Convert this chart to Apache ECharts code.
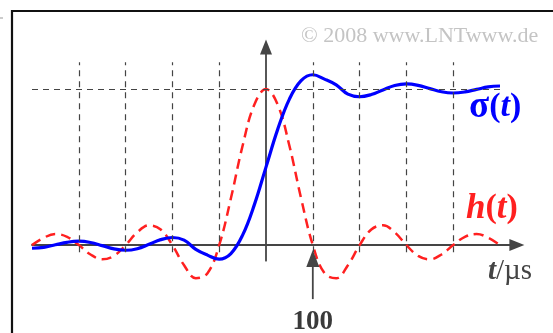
<!DOCTYPE html>
<html><head><meta charset="utf-8">
<script src="https://cdn.jsdelivr.net/npm/echarts@6/dist/echarts.min.js"></script>
<style>html,body{margin:0;padding:0;background:#fff;} #c{width:553px;height:333px;}</style>
</head><body><div id="c"></div>
<script>
// time axis samples (µs)
const tValues = [-500,-475,-450,-425,-400,-375,-350,-325,-300,-275,-250,-225,-200,-175,-150,-125,-100,-75,-50,-25,0,
  25,50,75,100,125,150,175,200,225,250,275,300,325,350,375,400,425,450,475,500];
// impulse response h(t) (red dashed), normalised to peak 1
const hValues = [0,0.047,0.071,0.053,0,-0.060,-0.091,-0.069,0,0.082,0.127,0.100,0,-0.129,-0.212,-0.180,0,0.300,0.637,0.900,1,
  0.900,0.637,0.300,0,-0.180,-0.212,-0.129,0,0.100,0.127,0.082,0,-0.069,-0.091,-0.060,0,0.053,0.071,0.047,0];
// step response sigma(t) (blue solid)
const sigmaValues = [-0.020,-0.014,0.002,0.018,0.025,0.017,-0.003,-0.024,-0.033,-0.023,0.005,0.035,0.049,0.032,-0.027,-0.064,-0.090,-0.054,0.064,0.258,0.500,
  0.742,0.936,1.054,1.092,1.064,1.027,0.968,0.951,0.965,0.995,1.023,1.033,1.024,1.003,0.983,0.975,0.982,0.998,1.014,1.020];
// dashed grid positions
const gridTicks = [-400,-300,-200,-100,100,200,300,400];
const refLevel = 1;
const markedTick = 100;
const markedLabel = '100';

const X0 = -500, X1 = 536, Y0 = -0.1, Y1 = 1.27;
const pxT = 0.468, pxV = 156;
const chart = echarts.init(document.getElementById('c'), null, {renderer: 'canvas'});
const axisCol = '#454545';

const gridLines = gridTicks.map(t => [{coord: [t, -0.045]}, {coord: [t, 1.173]}]);
gridLines.push([{coord: [X0, refLevel]}, {coord: [500, refLevel]}]);

chart.setOption({
  animation: false,
  backgroundColor: '#ffffff',
  grid: {left: 32, top: 47, width: (X1 - X0) * pxT, height: (Y1 - Y0) * pxV},
  xAxis: {type: 'value', min: X0, max: X1,
    axisLine: {onZero: true, symbol: ['none', 'triangle'], symbolSize: [12, 15], lineStyle: {color: axisCol, width: 1.8}},
    axisTick: {show: false}, axisLabel: {show: false}, splitLine: {show: false}},
  yAxis: {type: 'value', min: Y0, max: Y1,
    axisLine: {show: true, onZero: true, symbol: ['none', 'triangle'], symbolSize: [12, 15], lineStyle: {color: axisCol, width: 1.8}},
    axisTick: {show: false}, axisLabel: {show: false}, splitLine: {show: false}},
  series: [
    {type: 'line', data: [], z: 1, silent: true,
     markLine: {silent: true, symbol: ['none', 'none'], label: {show: false}, animation: false,
       lineStyle: {color: '#444', type: [6, 5], width: 1.2}, emphasis: {disabled: true}, data: gridLines}},
    {name: 'h', type: 'line', z: 3, smooth: 0.4, showSymbol: false, silent: true, clip: false,
     data: tValues.map((t, i) => [t, hValues[i]]),
     lineStyle: {color: '#ff2020', width: 2.5, type: [10, 6]}},
    {name: 'sigma', type: 'line', z: 4, smooth: 0.4, showSymbol: false, silent: true, clip: false,
     data: tValues.map((t, i) => [t, sigmaValues[i]]),
     lineStyle: {color: '#0000ff', width: 3.2}}
  ]
});

const p = chart.convertToPixel({gridIndex: 0}, [markedTick, 0]);
const ax = p[0], ay = p[1];
chart.setOption({
  graphic: [
    {type: 'rect', shape: {x: 12, y: 11, width: 700, height: 500}, style: {fill: null, stroke: '#111', lineWidth: 2.2}, z: 10},
    {type: 'line', shape: {x1: 0, y1: 18, x2: 3, y2: 18}, style: {stroke: '#999', lineWidth: 1}},
    {type: 'line', shape: {x1: ax, y1: ay + 20, x2: ax, y2: ay + 54}, style: {stroke: axisCol, lineWidth: 1.8}, z: 10},
    {type: 'polygon', shape: {points: [[ax, ay + 5], [ax - 6.5, ay + 22], [ax + 6.5, ay + 22]]}, style: {fill: axisCol}, z: 10},
    {type: 'text', x: ax, y: ay + 63, z: 10,
     style: {text: markedLabel, font: 'bold 27px "Liberation Serif", serif', fill: '#3a3a3a', align: 'center', verticalAlign: 'top'}},
    {type: 'text', x: 301, y: 25, z: 10,
     style: {text: '© 2008 www.LNTwww.de', font: '22px "Liberation Serif", serif', fill: '#c4c4c4', align: 'left', verticalAlign: 'top'}},
    {type: 'text', x: 469, y: 89, z: 10,
     style: {text: '{a|σ}{b|(}{c|t}{b|)}', fill: '#0000ff', align: 'left', verticalAlign: 'top',
       rich: {a: {font: 'bold 37px "Liberation Serif", serif', fill: '#0000ff'},
              b: {font: 'bold 34px "Liberation Serif", serif', fill: '#0000ff'},
              c: {font: 'italic bold 34px "Liberation Serif", serif', fill: '#0000ff'}}}},
    {type: 'text', x: 466, y: 191, z: 10,
     style: {text: '{c|h}{b|(}{c|t}{b|)}', fill: '#ff2020', align: 'left', verticalAlign: 'top',
       rich: {b: {font: 'bold 34px "Liberation Serif", serif', fill: '#ff2020'},
              c: {font: 'italic bold 35px "Liberation Serif", serif', fill: '#ff2020'}}}},
    {type: 'text', x: 488, y: 257, z: 10,
     style: {text: '{c|t}{b|/µs}', fill: '#444', align: 'left', verticalAlign: 'top',
       rich: {b: {font: '29px "Liberation Serif", serif', fill: '#444'},
              c: {font: 'italic bold 29px "Liberation Serif", serif', fill: '#444'}}}}
  ]
});
</script></body></html>
